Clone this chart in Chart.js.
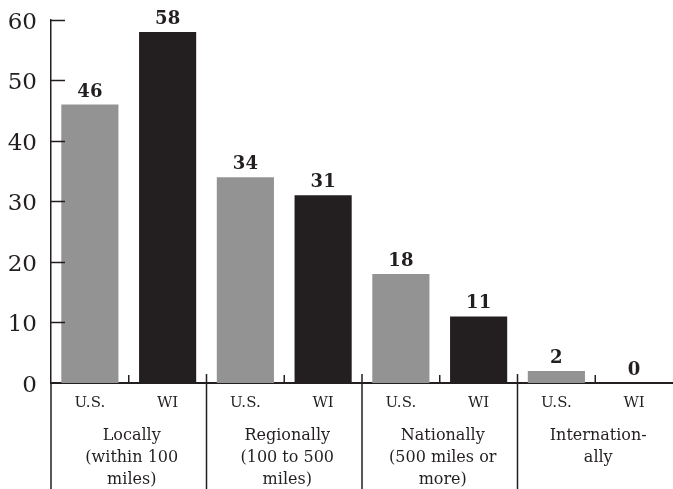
<!DOCTYPE html>
<html>
<head>
<meta charset="utf-8">
<script src="https://cdn.jsdelivr.net/npm/chart.js@4"></script>
<style>
  html, body { margin: 0; padding: 0; background: #fff; }
  canvas { display: block; }
</style>
</head>
<body>
<canvas id="myChart" width="673" height="489"></canvas>
<script>
// DATA
const groups = [
  ['Locally', '(within 100', 'miles)'],
  ['Regionally', '(100 to 500', 'miles)'],
  ['Nationally', '(500 miles or', 'more)'],
  ['Internation-', 'ally']
]
const regions = ['U.S.', 'WI']
const usValues = [46, 34, 18, 2]
const wiValues = [58, 31, 11, 0]
const yTicks = [0, 10, 20, 30, 40, 50, 60]

const ink = '#231f20'
const gray = '#939393'
const serif = 'DejaVu Serif'

// interleave U.S. / WI per group
const labels = []
const values = []
const colors = []
groups.forEach((g, i) => {
  labels.push(regions[0], regions[1])
  values.push(usValues[i], wiValues[i])
  colors.push(gray, ink)
})

// extra lines and texts around the axes
const extras = {
  id: 'extras',
  afterDraw(chart) {
    const ctx = chart.ctx
    const x = chart.scales.x
    const y = chart.scales.y
    const area = chart.chartArea
    const H = chart.height
    ctx.save()
    ctx.strokeStyle = ink
    ctx.lineWidth = 1.5

    // inward y ticks
    yTicks.slice(1).forEach(v => {
      const py = Math.round(y.getPixelForValue(v)) + 0.5
      ctx.beginPath()
      ctx.moveTo(area.left, py)
      ctx.lineTo(area.left + 14, py)
      ctx.stroke()
    })

    // y axis runs down to the bottom
    ctx.beginPath()
    ctx.moveTo(area.left, area.bottom)
    ctx.lineTo(area.left, H)
    ctx.stroke()

    groups.forEach((g, i) => {
      const a = x.getPixelForValue(2 * i)
      const b = x.getPixelForValue(2 * i + 1)
      const mid = (a + b) / 2
      // small tick between the two bars
      ctx.beginPath()
      ctx.moveTo(mid, area.bottom - 8)
      ctx.lineTo(mid, area.bottom)
      ctx.stroke()
      // separator after the group
      if (i < groups.length - 1) {
        const sep = (b + x.getPixelForValue(2 * i + 2)) / 2
        ctx.beginPath()
        ctx.moveTo(sep, area.bottom - 9)
        ctx.lineTo(sep, H)
        ctx.stroke()
      }
      // group label
      ctx.fillStyle = ink
      ctx.font = '16px "' + serif + '"'
      ctx.textAlign = 'center'
      ctx.textBaseline = 'alphabetic'
      g.forEach((line, j) => {
        ctx.fillText(line, mid + 3, area.bottom + 57 + j * 22)
      })
    })

    // value labels
    const meta = chart.getDatasetMeta(0)
    ctx.font = 'bold 18px "' + serif + '"'
    ctx.textAlign = 'center'
    ctx.textBaseline = 'alphabetic'
    meta.data.forEach((bar, i) => {
      ctx.fillText(String(values[i]), bar.x, bar.y - 8)
    })
    ctx.restore()
  }
}

const data = {
  labels: labels,
  datasets: [
    {
      data: values,
      backgroundColor: colors,
      borderWidth: 0,
      barPercentage: 0.735,
      categoryPercentage: 1
    }
  ]
}

const config = {
  type: 'bar',
  data: data,
  options: {
    responsive: false,
    animation: false,
    devicePixelRatio: 1,
    layout: {
      padding: { top: 13, right: 0, bottom: 0, left: 0 }
    },
    plugins: {
      legend: { display: false },
      tooltip: { enabled: false }
    },
    scales: {
      x: {
        offset: true,
        grid: { display: false },
        border: { display: true, color: ink, width: 2 },
        ticks: {
          color: ink,
          font: { family: serif, size: 15 },
          padding: 3,
          maxRotation: 0,
          autoSkip: false
        },
        afterFit: scale => {
          scale.height = 106
        }
      },
      y: {
        min: 0,
        max: 60,
        grid: { display: false },
        border: { display: true, color: ink, width: 1.5 },
        ticks: {
          stepSize: 10,
          color: ink,
          font: { family: serif, size: 23 },
          padding: 6,
          labelOffset: 3
        },
        afterFit: scale => {
          scale.width = 51
        }
      }
    }
  },
  plugins: [extras]
}
const myChart = new Chart(document.getElementById('myChart'), config)
</script>
</body>
</html>
